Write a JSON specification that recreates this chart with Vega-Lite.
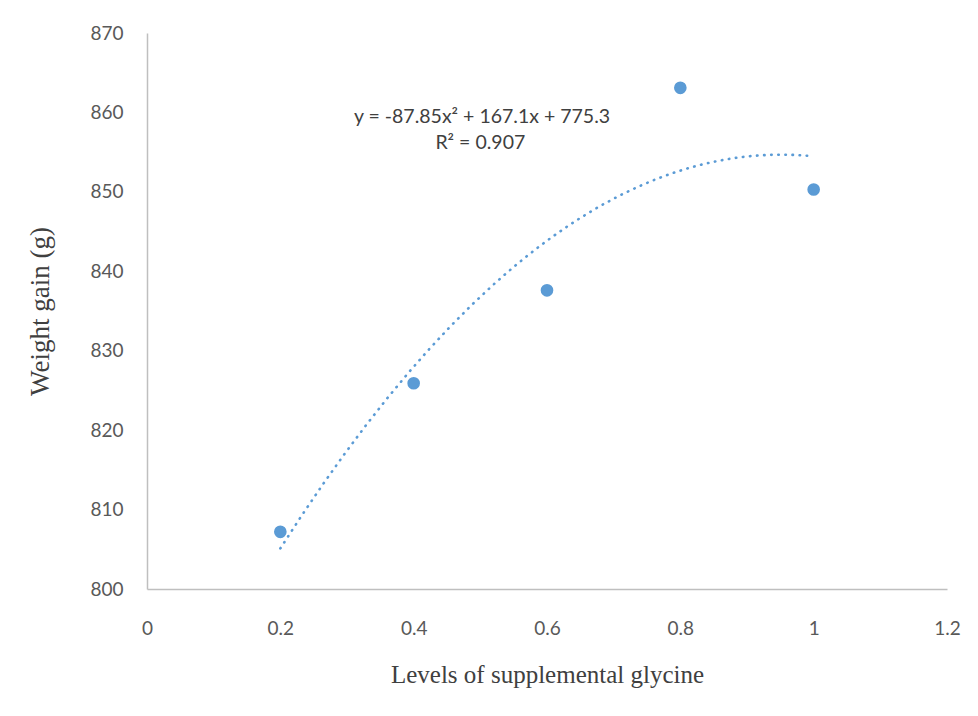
{
  "$schema": "https://vega.github.io/schema/vega-lite/v6.json",
  "autosize": {"type": "none"},
  "padding": {"left": 147, "top": 33, "right": 31, "bottom": 127},
  "width": 800,
  "height": 556,
  "background": "white",
  "config": {"view": {"stroke": null}},
  "datasets": {
    "pts": [
      {"level": 0.2, "gain": 807.2},
      {"level": 0.4, "gain": 825.9},
      {"level": 0.6, "gain": 837.6},
      {"level": 0.8, "gain": 863.1},
      {"level": 1.0, "gain": 850.3}
    ],
    "notes": [
      {"level": 0.5025, "gain": 859.4, "label": "y = -87.85x² + 167.1x + 775.3"},
      {"level": 0.5, "gain": 856.1, "label": "R² = 0.907"}
    ]
  },
  "encoding": {
    "x": {
      "field": "level", "type": "quantitative",
      "scale": {"domain": [0, 1.2], "nice": false, "zero": false},
      "axis": {
        "values": [0, 0.2, 0.4, 0.6, 0.8, 1, 1.2],
        "format": "~g",
        "labelFlush": false,
        "title": "Levels of supplemental glycine",
        "titleFont": "Liberation Serif", "titleFontSize": 25, "titleFontWeight": "normal",
        "titleColor": "#404040", "titlePadding": 24,
        "labelFont": "Lato", "labelFontSize": 19, "labelColor": "#595959",
        "labelPadding": 30, "ticks": false, "grid": false,
        "domainColor": "#BFBFBF", "domainWidth": 1.5
      }
    },
    "y": {
      "field": "gain", "type": "quantitative",
      "scale": {"domain": [800, 870], "nice": false, "zero": false},
      "axis": {
        "values": [800, 810, 820, 830, 840, 850, 860, 870],
        "labelFlush": false,
        "title": "Weight gain (g)",
        "titleFont": "Liberation Serif", "titleFontSize": 27, "titleFontWeight": "normal",
        "titleColor": "#404040", "titlePadding": 35,
        "labelFont": "Lato", "labelFontSize": 19, "labelColor": "#595959",
        "labelPadding": 24, "ticks": false, "grid": false,
        "domainColor": "#BFBFBF", "domainWidth": 1.5
      }
    }
  },
  "layer": [
    {
      "data": {"name": "pts"},
      "transform": [
        {"regression": "gain", "on": "level", "method": "poly", "order": 2, "extent": [0.2, 1.0]}
      ],
      "mark": {"type": "line", "color": "#5B9BD5", "strokeWidth": 2.6, "strokeDash": [0.5, 6.6], "strokeCap": "round"}
    },
    {
      "data": {"name": "pts"},
      "mark": {"type": "circle", "color": "#5B9BD5", "size": 160, "opacity": 1}
    },
    {
      "data": {"name": "notes"},
      "mark": {"type": "text", "font": "Lato", "fontSize": 19.5, "color": "#404040", "align": "center", "baseline": "middle"},
      "encoding": {"text": {"field": "label"}}
    }
  ]
}
